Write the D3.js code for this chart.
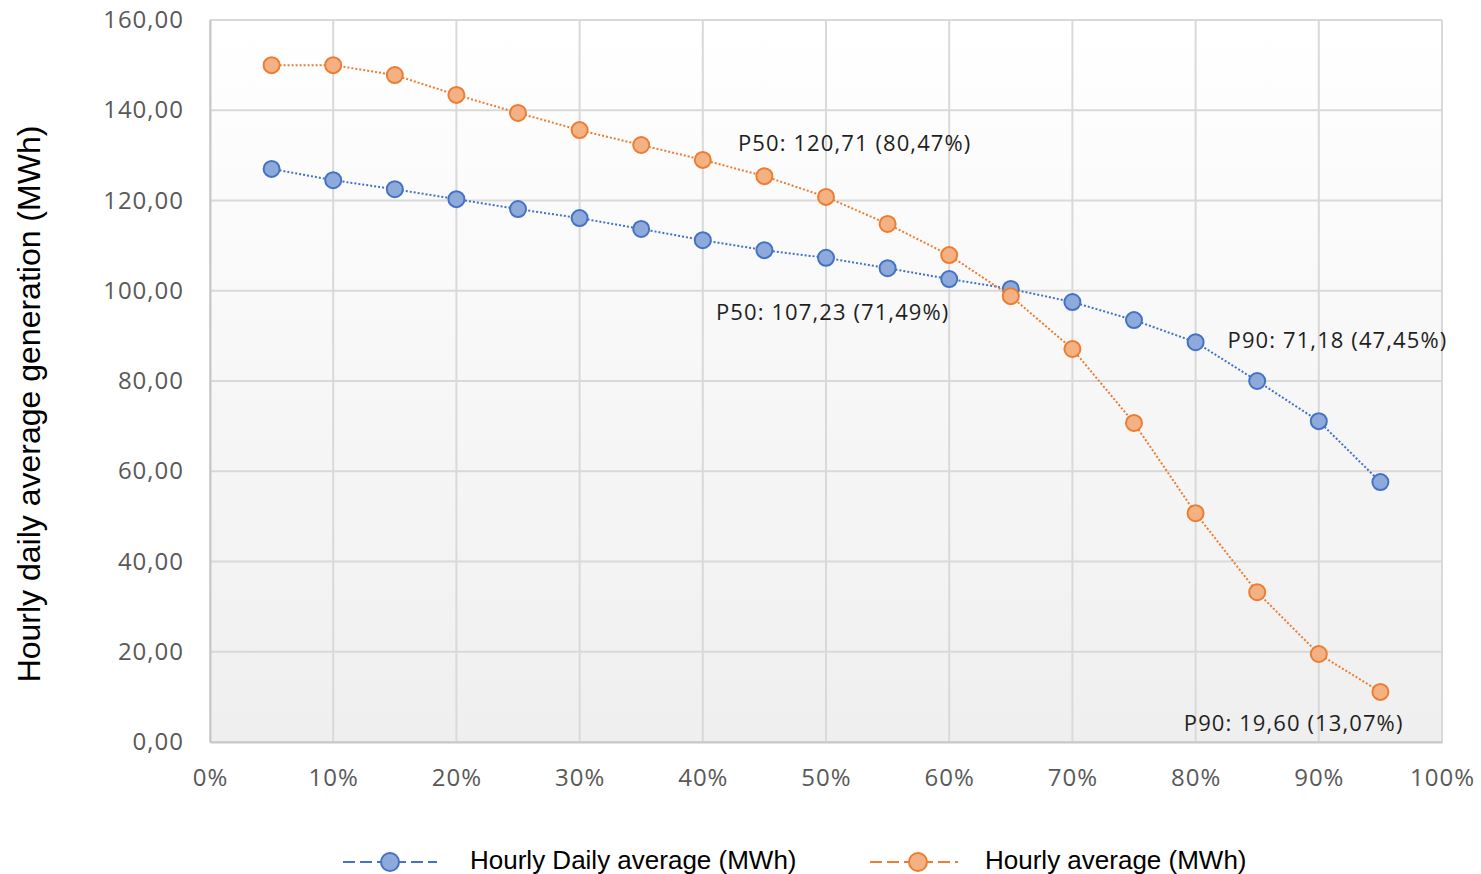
<!DOCTYPE html>
<html>
<head>
<meta charset="utf-8">
<script src="https://d3js.org/d3.v7.min.js"></script>
<style>
  body { margin: 0; background: #fff; }
  .tick text { font-family: "Open Sans", sans-serif; font-size: 24px; letter-spacing: 1px; fill: #595959; }
  .note { font-family: "Open Sans", sans-serif; font-size: 22px; letter-spacing: 1.1px; fill: #1f1f1f; }
  .legend text, .ylabel { font-family: "Liberation Sans", Arial, sans-serif; fill: #000; }
</style>
</head>
<body>
<svg id="chart" width="1481" height="874"></svg>
<script>
// percentiles along the x axis
var pct = [5, 10, 15, 20, 25, 30, 35, 40, 45, 50, 55, 60, 65, 70, 75, 80, 85, 90, 95];
// Hourly Daily average (MWh)
var dailyAvg = [127.0, 124.5, 122.5, 120.3, 118.1, 116.1, 113.7, 111.2, 109.0, 107.3,
                105.0, 102.6, 100.4, 97.5, 93.5, 88.6, 80.0, 71.1, 57.6];
// Hourly average (MWh)
var hourlyAvg = [150.0, 150.0, 147.8, 143.4, 139.4, 135.6, 132.3, 129.0, 125.4, 120.8,
                 114.8, 107.9, 98.8, 87.1, 70.7, 50.7, 33.2, 19.5, 11.1];
var yTicks = [0, 20, 40, 60, 80, 100, 120, 140, 160];
var xTicks = [0, 10, 20, 30, 40, 50, 60, 70, 80, 90, 100];
var notes = [
  { text: "P50: 120,71 (80,47%)", x: 50, y: 120.71, dx: -88, dy: -46 },
  { text: "P50: 107,23 (71,49%)", x: 50, y: 107.23, dx: -110, dy: 62 },
  { text: "P90: 71,18 (47,45%)", x: 80, y: 88.6, dx: 32, dy: 6 },
  { text: "P90: 19,60 (13,07%)", x: 90, y: 19.6, dx: -135, dy: 77 }
];

var svg = d3.select("#chart");
var plotL = 210, plotR = 1442, plotT = 20, plotB = 742;

var x = d3.scaleLinear().domain([0, 100]).range([plotL, plotR]);
var y = d3.scaleLinear().domain([0, 160]).range([plotB, plotT]);

var defs = svg.append("defs");
var grad = defs.append("linearGradient").attr("id", "bg")
  .attr("x1", 0).attr("y1", 0).attr("x2", 0).attr("y2", 1);
grad.append("stop").attr("offset", "0%").attr("stop-color", "#ffffff");
grad.append("stop").attr("offset", "100%").attr("stop-color", "#efefef");

svg.append("rect")
  .attr("x", plotL).attr("y", plotT)
  .attr("width", plotR - plotL).attr("height", plotB - plotT)
  .attr("fill", "url(#bg)");

// grid
svg.append("g").selectAll("line").data(yTicks).enter().append("line")
  .attr("x1", plotL).attr("x2", plotR)
  .attr("y1", d => y(d)).attr("y2", d => y(d))
  .attr("stroke", "#d9d9d9").attr("stroke-width", 2);
svg.append("g").selectAll("line").data(xTicks).enter().append("line")
  .attr("x1", d => x(d)).attr("x2", d => x(d))
  .attr("y1", plotT).attr("y2", plotB)
  .attr("stroke", "#d9d9d9").attr("stroke-width", 2);

// axes
var yAxis = svg.append("g")
  .attr("transform", "translate(" + plotL + ",0)")
  .call(d3.axisLeft(y).tickValues(yTicks).tickSize(0).tickPadding(26)
    .tickFormat(d => d3.format(".2f")(d).replace(".", ",")));
yAxis.select(".domain").attr("stroke", "#c8c8c8").attr("stroke-width", 2);

var xAxis = svg.append("g")
  .attr("transform", "translate(0," + plotB + ")")
  .call(d3.axisBottom(x).tickValues(xTicks).tickSize(0).tickPadding(27)
    .tickFormat(d => d + "%"));
xAxis.select(".domain").attr("stroke", "#c8c8c8").attr("stroke-width", 2);

svg.append("text").attr("class", "ylabel")
  .attr("transform", "translate(40," + 404 + ") rotate(-90)")
  .attr("text-anchor", "middle")
  .attr("font-size", 32)
  .text("Hourly daily average generation (MWh)");

var series = [
  { name: "Hourly Daily average (MWh)", values: dailyAvg, line: "#4472c4", fill: "#8eaadb" },
  { name: "Hourly average (MWh)", values: hourlyAvg, line: "#ed7d31", fill: "#f4b184" }
];

var line = d3.line().x(d => x(d[0])).y(d => y(d[1]));

series.forEach(function(s) {
  var pts = pct.map((p, i) => [p, s.values[i]]);
  svg.append("path").datum(pts)
    .attr("d", line)
    .attr("fill", "none")
    .attr("stroke", s.line)
    .attr("stroke-width", 2)
    .attr("stroke-dasharray", "2,2");
  svg.append("g").selectAll("circle").data(pts).enter().append("circle")
    .attr("cx", d => x(d[0])).attr("cy", d => y(d[1]))
    .attr("r", 8)
    .attr("fill", s.fill)
    .attr("stroke", s.line)
    .attr("stroke-width", 2);
});

svg.append("g").selectAll("text").data(notes).enter().append("text")
  .attr("class", "note")
  .attr("x", d => x(d.x) + d.dx)
  .attr("y", d => y(d.y) + d.dy)
  .text(d => d.text);

// legend
var legend = svg.append("g").attr("class", "legend");
var legendPos = [{ x0: 343, x1: 437, cx: 390, tx: 470 }, { x0: 870, x1: 958, cx: 918, tx: 985 }];
series.forEach(function(s, i) {
  var p = legendPos[i], ly = 862;
  legend.append("line").attr("x1", p.x0).attr("x2", p.x1).attr("y1", ly).attr("y2", ly)
    .attr("stroke", s.line).attr("stroke-width", 2).attr("stroke-dasharray", "12,5");
  legend.append("circle").attr("cx", p.cx).attr("cy", ly).attr("r", 9)
    .attr("fill", s.fill).attr("stroke", s.line).attr("stroke-width", 2);
  legend.append("text").attr("x", p.tx).attr("y", ly + 7)
    .attr("font-size", 26).text(s.name);
});
</script>
</body>
</html>
